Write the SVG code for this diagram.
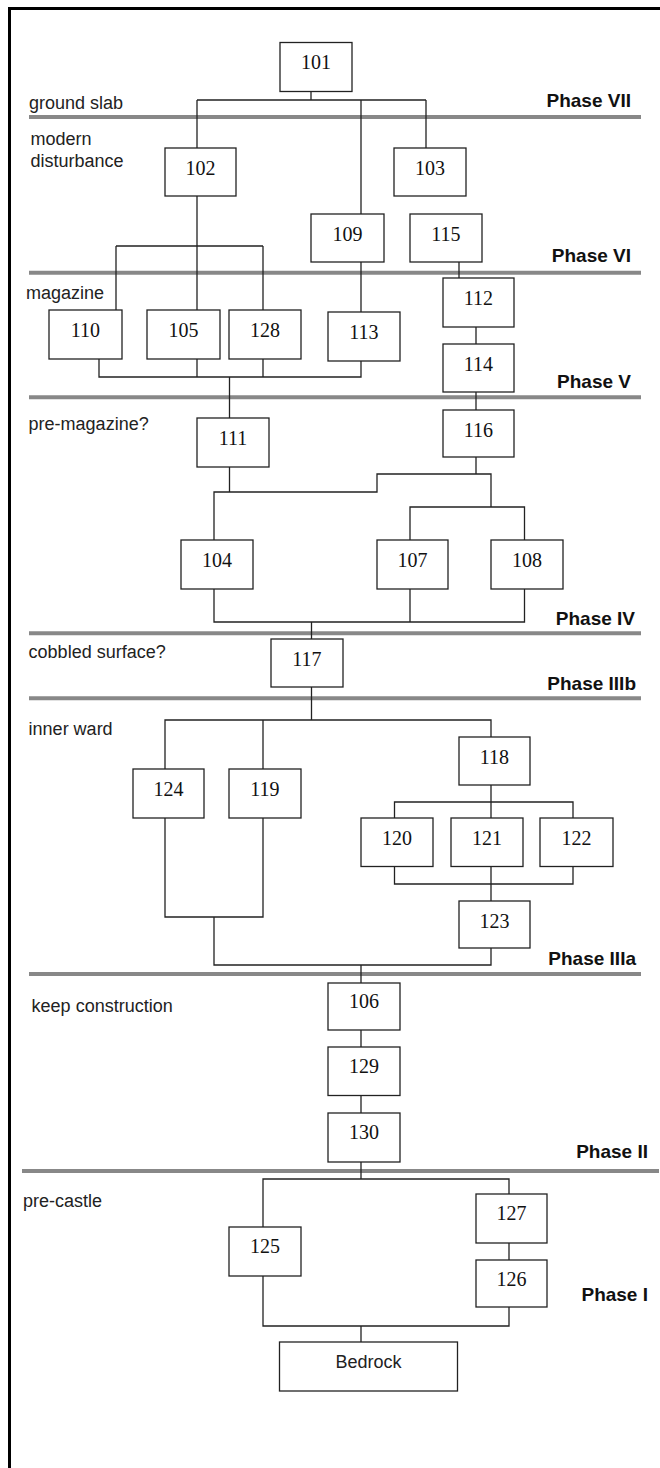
<svg xmlns="http://www.w3.org/2000/svg" width="660" height="1468" viewBox="0 0 660 1468">
<style>
.box{fill:#fff;stroke:#222;stroke-width:1.3}
.num{font-family:"Liberation Serif","Times New Roman",serif;font-size:20px;fill:#111;text-anchor:middle}
.lbl{font-family:"Liberation Sans",Arial,sans-serif;font-size:18px;fill:#222}
.ph{font-family:"Liberation Sans",Arial,sans-serif;font-size:19px;font-weight:bold;fill:#111;text-anchor:end}
.pl{stroke:#888;stroke-width:4;fill:none}
.cn{stroke:#222;stroke-width:1.3;fill:none}
</style>
<rect width="660" height="1468" fill="#fff"/>
<path d="M9.5 1468 V8.5 H660" stroke="#000" stroke-width="3" fill="none"/>
<g id="phase-lines">
<path class="pl" d="M29 117 H641"/>
<path class="pl" d="M29 272.7 H641"/>
<path class="pl" d="M29 397.3 H641"/>
<path class="pl" d="M29 633.3 H641"/>
<path class="pl" d="M29 698.3 H641"/>
<path class="pl" d="M29 974 H641"/>
<path class="pl" d="M22 1171 H659"/>
</g>
<g id="labels">
<text class="lbl" x="29" y="109">ground slab</text>
<text class="lbl" x="30.5" y="144.5">modern</text>
<text class="lbl" x="30.5" y="167">disturbance</text>
<text class="lbl" x="26" y="299">magazine</text>
<text class="lbl" x="28.6" y="430">pre-magazine?</text>
<text class="lbl" x="28.6" y="658">cobbled surface?</text>
<text class="lbl" x="28.6" y="735">inner ward</text>
<text class="lbl" x="31.6" y="1011.5">keep construction</text>
<text class="lbl" x="23" y="1207">pre-castle</text>
<text class="ph" x="631" y="107">Phase VII</text>
<text class="ph" x="631" y="262">Phase VI</text>
<text class="ph" x="631" y="388">Phase V</text>
<text class="ph" x="635" y="625">Phase IV</text>
<text class="ph" x="636" y="690">Phase IIIb</text>
<text class="ph" x="636" y="965">Phase IIIa</text>
<text class="ph" x="648" y="1158">Phase II</text>
<text class="ph" x="648" y="1301">Phase I</text>
</g>
<g id="connectors">
<path class="cn" d="M311 91.5 V100 M197 100 H426 M197 100 V148 M361 100 V214 M426 100 V148"/>
<path class="cn" d="M197 196 V310 M116 246 H263 M116 246 V310 M263 246 V310"/>
<path class="cn" d="M361 262 V312 M459 262 V278 M476 327 V344"/>
<path class="cn" d="M99 359 V377 H361 V361 M197 359 V377 M263 359 V377 M229.5 377 V418"/>
<path class="cn" d="M476 392 V410"/>
<path class="cn" d="M229.5 467 V492 M214 540 V492 H377 V474 H491 V507 M476 457 V474 M410 540 V507 H524.5 V540"/>
<path class="cn" d="M214 589 V622 H524.5 V589 M410 589 V622 M311.5 622 V639"/>
<path class="cn" d="M311.5 687 V720 M165 769 V720 H491 V737 M263 720 V769"/>
<path class="cn" d="M491 785 V802 M394.5 818 V802 H573 V818 M491 802 V818"/>
<path class="cn" d="M394.5 866.5 V884 H573 V866.5 M491 866.5 V901"/>
<path class="cn" d="M165 818 V917 H263 V818 M214 917 V965 H491 V948 M361 965 V983"/>
<path class="cn" d="M361 1030 V1047 M361 1095.5 V1113 M361 1162 V1179 M263 1227 V1179 H509 V1194 M509 1243 V1260"/>
<path class="cn" d="M263 1276 V1326 H509 V1307 M361 1326 V1342"/>
</g>
<g id="n101"><rect class="box" x="280" y="42.5" width="72" height="49"/><text class="num" x="316" y="69">101</text></g>
<g id="n102"><rect class="box" x="165" y="148" width="71" height="48"/><text class="num" x="200.5" y="175">102</text></g>
<g id="n103"><rect class="box" x="394" y="148" width="72" height="48"/><text class="num" x="430" y="175">103</text></g>
<g id="n109"><rect class="box" x="311" y="214" width="73" height="48"/><text class="num" x="347.5" y="241">109</text></g>
<g id="n115"><rect class="box" x="410" y="214" width="72" height="48"/><text class="num" x="446" y="241">115</text></g>
<g id="n110"><rect class="box" x="49" y="310" width="73" height="49"/><text class="num" x="85.5" y="337">110</text></g>
<g id="n105"><rect class="box" x="147" y="310" width="73" height="49"/><text class="num" x="183.5" y="337">105</text></g>
<g id="n128"><rect class="box" x="229" y="310" width="72" height="49"/><text class="num" x="265" y="337">128</text></g>
<g id="n113"><rect class="box" x="328" y="312" width="72" height="49"/><text class="num" x="364" y="339">113</text></g>
<g id="n112"><rect class="box" x="443" y="278" width="71" height="49"/><text class="num" x="478.5" y="305">112</text></g>
<g id="n114"><rect class="box" x="443" y="344" width="71" height="48"/><text class="num" x="478.5" y="371">114</text></g>
<g id="n116"><rect class="box" x="443" y="410" width="71" height="47"/><text class="num" x="478.5" y="437">116</text></g>
<g id="n111"><rect class="box" x="197" y="418" width="72" height="49"/><text class="num" x="233" y="445">111</text></g>
<g id="n104"><rect class="box" x="181" y="540" width="72" height="49"/><text class="num" x="217" y="567">104</text></g>
<g id="n107"><rect class="box" x="377" y="540" width="71" height="49"/><text class="num" x="412.5" y="567">107</text></g>
<g id="n108"><rect class="box" x="491" y="540" width="72" height="49"/><text class="num" x="527" y="567">108</text></g>
<g id="n117"><rect class="box" x="271" y="639" width="72" height="48"/><text class="num" x="307" y="666">117</text></g>
<g id="n124"><rect class="box" x="133" y="769" width="71" height="49"/><text class="num" x="168.5" y="796">124</text></g>
<g id="n119"><rect class="box" x="229" y="769" width="72" height="49"/><text class="num" x="265" y="796">119</text></g>
<g id="n118"><rect class="box" x="459" y="737" width="71" height="48"/><text class="num" x="494.5" y="764">118</text></g>
<g id="n120"><rect class="box" x="361" y="818" width="72" height="48.5"/><text class="num" x="397" y="845">120</text></g>
<g id="n121"><rect class="box" x="451" y="818" width="72" height="48.5"/><text class="num" x="487" y="845">121</text></g>
<g id="n122"><rect class="box" x="540" y="818" width="73" height="48.5"/><text class="num" x="576.5" y="845">122</text></g>
<g id="n123"><rect class="box" x="459" y="901" width="71" height="47"/><text class="num" x="494.5" y="928">123</text></g>
<g id="n106"><rect class="box" x="328" y="983" width="72" height="47"/><text class="num" x="364" y="1008">106</text></g>
<g id="n129"><rect class="box" x="328" y="1047" width="72" height="48.5"/><text class="num" x="364" y="1073">129</text></g>
<g id="n130"><rect class="box" x="328" y="1113" width="72" height="49"/><text class="num" x="364" y="1139">130</text></g>
<g id="n125"><rect class="box" x="229" y="1227" width="72" height="49"/><text class="num" x="265" y="1253">125</text></g>
<g id="n127"><rect class="box" x="476" y="1194" width="71" height="49"/><text class="num" x="511.5" y="1220">127</text></g>
<g id="n126"><rect class="box" x="476" y="1260" width="71" height="47"/><text class="num" x="511.5" y="1286">126</text></g>
<g id="bedrock"><rect class="box" x="279.5" y="1342" width="178" height="49"/><text class="lbl" x="368.5" y="1368" text-anchor="middle">Bedrock</text></g>
</svg>
